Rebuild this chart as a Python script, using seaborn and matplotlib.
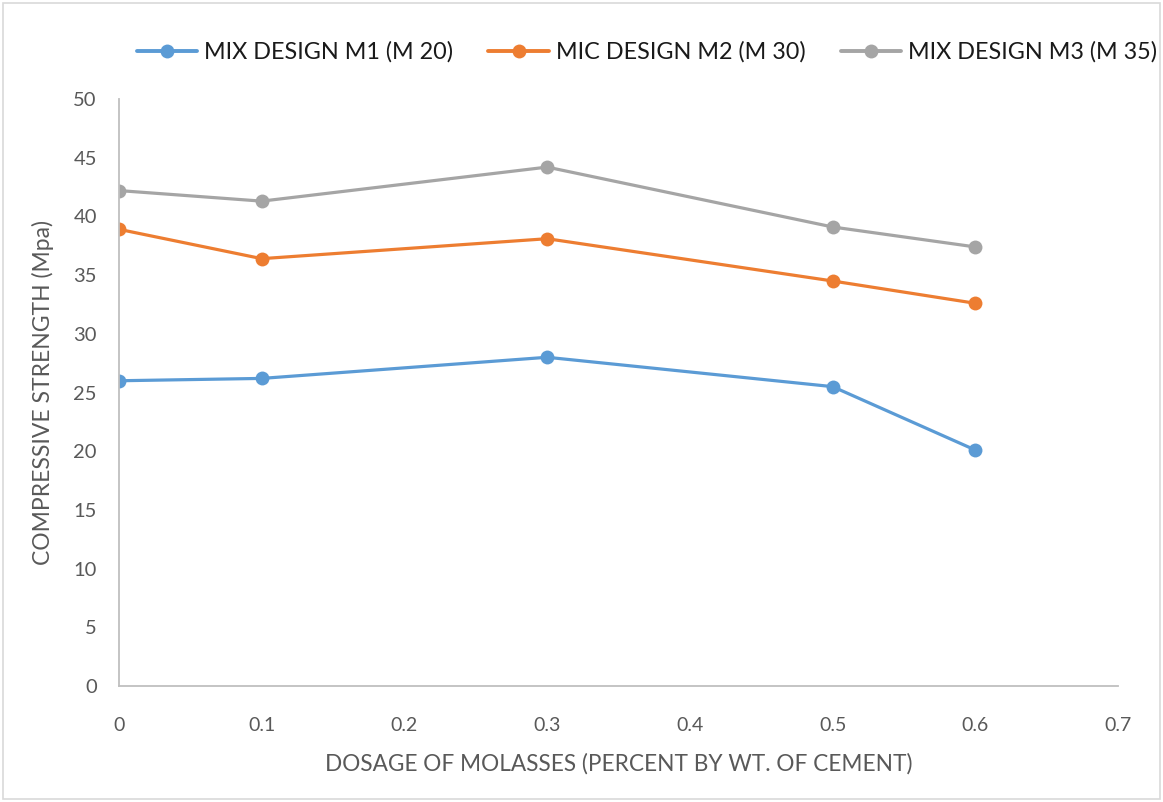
import matplotlib
matplotlib.use("Agg")
import matplotlib.pyplot as plt
import seaborn as sns
import pandas as pd
from matplotlib.patches import Rectangle

# Compressive strength (MPa) against molasses dosage
dosage = [0, 0.1, 0.3, 0.5, 0.6]
series_names = ["MIX DESIGN M1 (M 20)", "MIC DESIGN M2 (M 30)", "MIX DESIGN M3 (M 35)"]
m1_strength = [26.0, 26.2, 28.0, 25.5, 20.1]
m2_strength = [38.9, 36.4, 38.1, 34.5, 32.6]
m3_strength = [42.2, 41.3, 44.2, 39.1, 37.4]
x_ticks = [0, 0.1, 0.2, 0.3, 0.4, 0.5, 0.6, 0.7]
y_ticks = [0, 5, 10, 15, 20, 25, 30, 35, 40, 45, 50]
colors = ["#5B9BD5", "#ED7D31", "#A5A5A5"]

rows = []
for name, vals in zip(series_names, [m1_strength, m2_strength, m3_strength]):
    for d, v in zip(dosage, vals):
        rows.append({"dosage": d, "strength": v, "series": name})
df = pd.DataFrame(rows)

sns.set_theme(style="white")
plt.rcParams["font.family"] = ["Lato", "DejaVu Sans"]

fig = plt.figure(figsize=(11.63, 8.02), dpi=100)
ax = fig.add_axes([119 / 1163, 1 - 686 / 802, (1118 - 119) / 1163, (686 - 99) / 802])

sns.lineplot(data=df, x="dosage", y="strength", hue="series", hue_order=series_names,
             palette=colors, marker="o", markersize=10, markeredgewidth=0,
             linewidth=2.3, ax=ax, legend=True)

ax.set_xlim(0, 0.7)
ax.set_ylim(0, 50)
ax.set_xticks(x_ticks)
ax.set_xticklabels([f"{t:g}" for t in x_ticks])
ax.set_yticks(y_ticks)
ax.set_yticklabels([str(t) for t in y_ticks])
ax.tick_params(axis="x", length=0, pad=22, labelsize=14, labelcolor="#595959")
ax.tick_params(axis="y", length=0, pad=16, labelsize=14.5, labelcolor="#595959")

for side in ["top", "right"]:
    ax.spines[side].set_visible(False)
for side in ["left", "bottom"]:
    ax.spines[side].set_color("#BFBFBF")
    ax.spines[side].set_linewidth(1.3)
ax.grid(False)

ax.set_xlabel("DOSAGE OF MOLASSES (PERCENT BY WT. OF CEMENT)", fontsize=16.3,
              color="#595959", labelpad=14)
ax.set_ylabel("COMPRESSIVE STRENGTH (Mpa)", fontsize=16.5, color="#595959", labelpad=14)

handles, labels = ax.get_legend_handles_labels()
ax.get_legend().remove()
for h in handles:
    h.set_linewidth(2.8)
leg = fig.legend(handles, labels, loc="center", bbox_to_anchor=(647 / 1163, 1 - 52 / 802),
                 ncol=3, frameon=False, fontsize=16.8, handlelength=2.6, handletextpad=0.3,
                 columnspacing=1.5, markerscale=1.0)
for t in leg.get_texts():
    t.set_color("#1a1a1a")

fig.patches.append(Rectangle((3 / 1163, 3 / 802), 1 - 6 / 1163, 1 - 6 / 802,
                             transform=fig.transFigure, fill=False,
                             edgecolor="#D9D9D9", linewidth=1.2))

fig.savefig("out.png", dpi=100, facecolor="white")
